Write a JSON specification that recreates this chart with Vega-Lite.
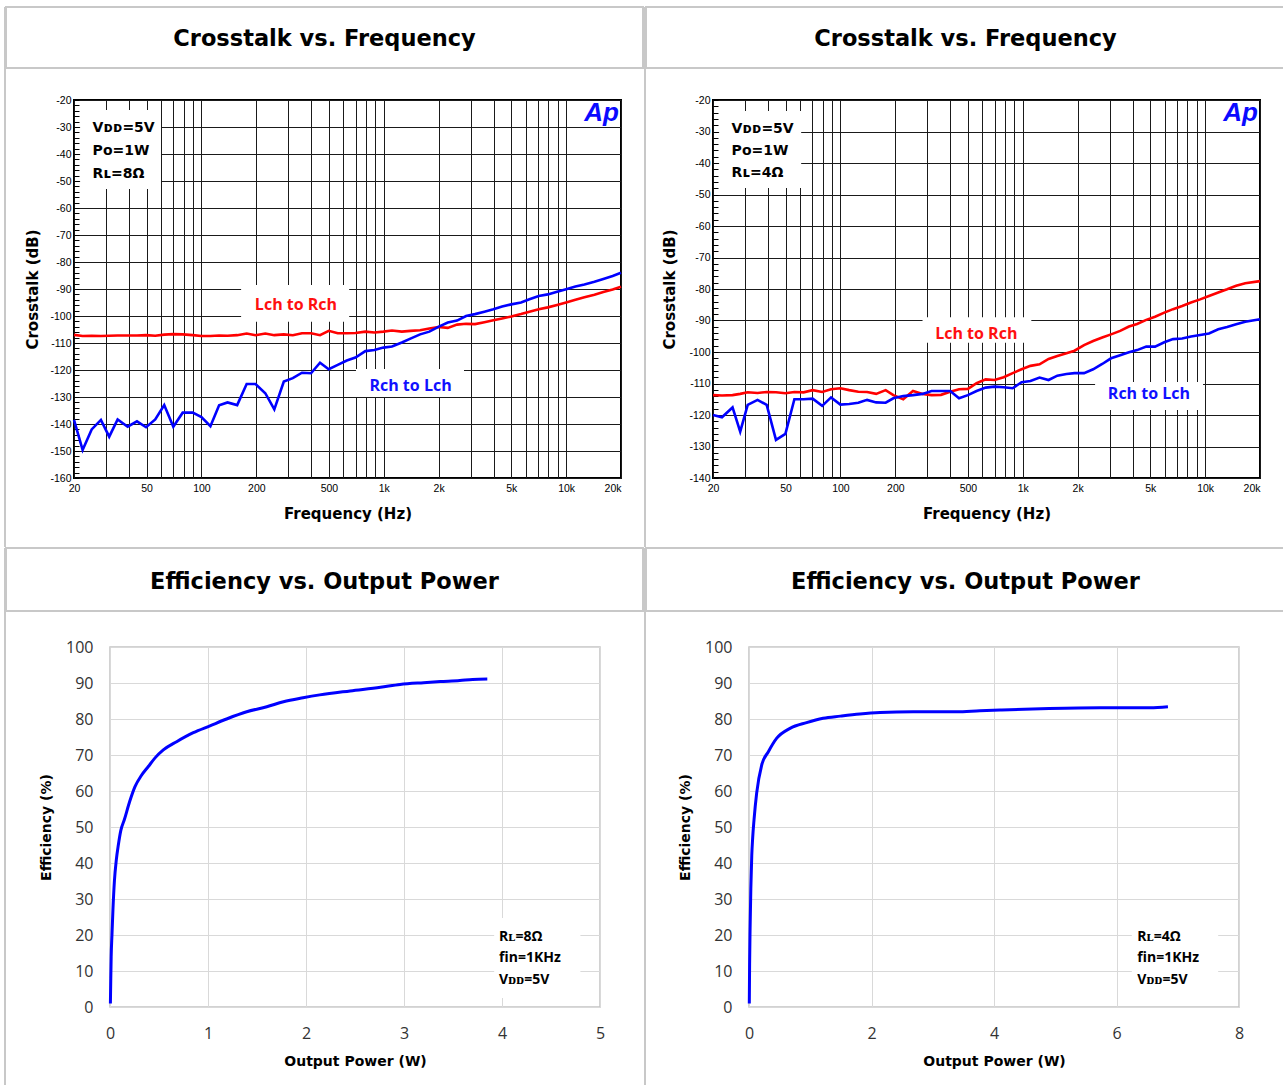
{
  "$schema": "https://vega.github.io/schema/vega-lite/v6.json",
  "background": "white",
  "padding": {"left": 4, "top": 6, "right": 0, "bottom": 0},
  "spacing": 0,
  "config": {
    "view": {"stroke": null},
    "axis": {"domain": false, "ticks": false, "labelOverlap": false, "labelFlush": false, "labelBound": false, "labelColor": "#000", "titleColor": "#000", "titleFontWeight": "bold", "titleFont": "DejaVu Sans", "tickCount": 200},
    "title": {"fontSize": 10, "color": "#fff"}
  },
  "datasets": {
    "tl": [
      {"f": 20, "L": -107.0, "R": -138.5}, {"f": 22.3, "L": -107.4, "R": -149.6}, {"f": 25, "L": -107.3, "R": -142}, {"f": 28.1, "L": -107.4, "R": -138.5},
      {"f": 31.2, "L": -107.3, "R": -144.7}, {"f": 34.7, "L": -107.2, "R": -138.3}, {"f": 39.4, "L": -107.2, "R": -141}, {"f": 44.3, "L": -107.2, "R": -139},
      {"f": 49.7, "L": -107.1, "R": -141.2}, {"f": 55.8, "L": -107.3, "R": -138.3}, {"f": 62.5, "L": -106.9, "R": -133}, {"f": 70.1, "L": -106.7, "R": -141},
      {"f": 78.9, "L": -106.8, "R": -135.8}, {"f": 89.6, "L": -107.1, "R": -135.8}, {"f": 100, "L": -107.4, "R": -137.4}, {"f": 112, "L": -107.4, "R": -140.8},
      {"f": 125, "L": -107.2, "R": -133.1}, {"f": 139, "L": -107.3, "R": -132}, {"f": 157, "L": -107.1, "R": -133}, {"f": 177, "L": -106.5, "R": -125.2},
      {"f": 198, "L": -107.1, "R": -125.2}, {"f": 224, "L": -106.5, "R": -128.6}, {"f": 251, "L": -107.1, "R": -134.6}, {"f": 283, "L": -106.8, "R": -124.3},
      {"f": 317, "L": -107.1, "R": -123}, {"f": 356, "L": -106.4, "R": -121}, {"f": 399, "L": -106.4, "R": -121.2}, {"f": 447, "L": -107.1, "R": -117.3},
      {"f": 499, "L": -105.5, "R": -119.7}, {"f": 559, "L": -106.4, "R": -118.1}, {"f": 627, "L": -106.4, "R": -116.5}, {"f": 699, "L": -106.3, "R": -115.4},
      {"f": 793, "L": -105.8, "R": -113}, {"f": 888, "L": -106.1, "R": -112.6}, {"f": 995, "L": -105.8, "R": -111.7}, {"f": 1109, "L": -105.4, "R": -111.3},
      {"f": 1256, "L": -105.8, "R": -109.8}, {"f": 1400, "L": -105.5, "R": -108.4}, {"f": 1582, "L": -105.3, "R": -106.8}, {"f": 1778, "L": -104.6, "R": -105.8},
      {"f": 1992, "L": -104.1, "R": -104}, {"f": 2244, "L": -104.4, "R": -102.4}, {"f": 2523, "L": -103.2, "R": -101.7}, {"f": 2826, "L": -102.9, "R": -100},
      {"f": 3164, "L": -103.0, "R": -99.3}, {"f": 3562, "L": -102.3, "R": -98.4}, {"f": 3991, "L": -101.6, "R": -97.5}, {"f": 4456, "L": -100.9, "R": -96.5},
      {"f": 5000, "L": -100.2, "R": -95.7}, {"f": 5660, "L": -99.3, "R": -95}, {"f": 6293, "L": -98.4, "R": -93.8}, {"f": 7080, "L": -97.5, "R": -92.6},
      {"f": 7937, "L": -96.8, "R": -92}, {"f": 8925, "L": -95.9, "R": -91}, {"f": 10000, "L": -95.0, "R": -90.1}, {"f": 11250, "L": -94.0, "R": -89.1},
      {"f": 12600, "L": -93.1, "R": -88.3}, {"f": 14300, "L": -92.1, "R": -87.3}, {"f": 16000, "L": -91.1, "R": -86.3}, {"f": 18000, "L": -90.2, "R": -85.2},
      {"f": 20000, "L": -89.2, "R": -84}
    ],
    "tr": [
      {"f": 20, "L": -113.7, "R": -120}, {"f": 22.4, "L": -113.8, "R": -120.7}, {"f": 25.6, "L": -113.7, "R": -117.6}, {"f": 28.2, "L": -113.3, "R": -125.3},
      {"f": 31, "L": -112.8, "R": -116.8}, {"f": 35.1, "L": -113, "R": -115.2}, {"f": 39.4, "L": -112.7, "R": -116.8}, {"f": 44.3, "L": -112.8, "R": -127.9},
      {"f": 49.9, "L": -113.1, "R": -126}, {"f": 55.9, "L": -112.7, "R": -115}, {"f": 62.8, "L": -112.8, "R": -115}, {"f": 70.4, "L": -112.1, "R": -114.8},
      {"f": 79.4, "L": -112.7, "R": -117.1}, {"f": 88.8, "L": -111.8, "R": -114.4}, {"f": 99.9, "L": -111.5, "R": -116.7}, {"f": 111.7, "L": -112.1, "R": -116.5},
      {"f": 125.3, "L": -112.6, "R": -116.1}, {"f": 140, "L": -112.7, "R": -115.2}, {"f": 157, "L": -113.3, "R": -116}, {"f": 177, "L": -112.1, "R": -116.1},
      {"f": 195, "L": -113.7, "R": -114.7}, {"f": 221, "L": -115, "R": -114}, {"f": 250, "L": -112.4, "R": -113.7}, {"f": 282, "L": -113.3, "R": -113.3},
      {"f": 316, "L": -113.7, "R": -112.4}, {"f": 356, "L": -113.6, "R": -112.4}, {"f": 400, "L": -112.6, "R": -112.4}, {"f": 447, "L": -111.8, "R": -114.7},
      {"f": 500, "L": -111.7, "R": -113.7}, {"f": 558, "L": -109.9, "R": -112.4}, {"f": 626, "L": -108.7, "R": -111.3}, {"f": 700, "L": -108.9, "R": -111},
      {"f": 786, "L": -108, "R": -111.2}, {"f": 880, "L": -106.7, "R": -111.5}, {"f": 985, "L": -105.5, "R": -109.6}, {"f": 1102, "L": -104.4, "R": -109.2},
      {"f": 1236, "L": -103.9, "R": -108.1}, {"f": 1385, "L": -102.2, "R": -108.9}, {"f": 1547, "L": -101.3, "R": -107.5}, {"f": 1736, "L": -100.4, "R": -107},
      {"f": 1922, "L": -99.6, "R": -106.7}, {"f": 2168, "L": -97.8, "R": -106.7}, {"f": 2432, "L": -96.5, "R": -105.5}, {"f": 2727, "L": -95.4, "R": -103.8},
      {"f": 3049, "L": -94.4, "R": -102}, {"f": 3420, "L": -93.3, "R": -101}, {"f": 3822, "L": -91.9, "R": -100.1}, {"f": 4236, "L": -91.1, "R": -99.4},
      {"f": 4756, "L": -89.8, "R": -98.3}, {"f": 5315, "L": -88.8, "R": -98.3}, {"f": 5970, "L": -87.5, "R": -96.9}, {"f": 6671, "L": -86.4, "R": -95.9},
      {"f": 7484, "L": -85.4, "R": -95.7}, {"f": 8370, "L": -84.3, "R": -95.1}, {"f": 9394, "L": -83.3, "R": -94.6}, {"f": 10500, "L": -82.2, "R": -94.1},
      {"f": 11800, "L": -81.1, "R": -92.8}, {"f": 13200, "L": -80.1, "R": -92.1}, {"f": 14800, "L": -79, "R": -91.2}, {"f": 16600, "L": -78.2, "R": -90.4},
      {"f": 20000, "L": -77.5, "R": -89.6}
    ],
    "el": [
      {"p": 0.004, "e": 1}, {"p": 0.008, "e": 8}, {"p": 0.012, "e": 14}, {"p": 0.02, "e": 20}, {"p": 0.03, "e": 27}, {"p": 0.045, "e": 35},
      {"p": 0.065, "e": 41}, {"p": 0.085, "e": 45}, {"p": 0.11, "e": 49}, {"p": 0.146, "e": 52}, {"p": 0.2, "e": 57}, {"p": 0.255, "e": 61.2},
      {"p": 0.32, "e": 64.3}, {"p": 0.391, "e": 66.8}, {"p": 0.46, "e": 69.2}, {"p": 0.544, "e": 71.4}, {"p": 0.68, "e": 73.7}, {"p": 0.85, "e": 76.2},
      {"p": 1.02, "e": 78.1}, {"p": 1.19, "e": 80}, {"p": 1.395, "e": 82}, {"p": 1.6, "e": 83.4}, {"p": 1.77, "e": 84.8}, {"p": 1.97, "e": 85.9},
      {"p": 2.14, "e": 86.7}, {"p": 2.45, "e": 87.8}, {"p": 2.76, "e": 88.8}, {"p": 2.96, "e": 89.6}, {"p": 3.2, "e": 90.1}, {"p": 3.37, "e": 90.4},
      {"p": 3.57, "e": 90.7}, {"p": 3.7, "e": 91}, {"p": 3.85, "e": 91.1}
    ],
    "er": [
      {"p": 0.005, "e": 1}, {"p": 0.01, "e": 12}, {"p": 0.018, "e": 22}, {"p": 0.03, "e": 33}, {"p": 0.045, "e": 42}, {"p": 0.06, "e": 47},
      {"p": 0.082, "e": 52}, {"p": 0.125, "e": 59.4}, {"p": 0.207, "e": 67.2}, {"p": 0.316, "e": 70.9}, {"p": 0.45, "e": 74.6}, {"p": 0.67, "e": 77.4},
      {"p": 0.94, "e": 79}, {"p": 1.21, "e": 80.2}, {"p": 1.49, "e": 80.8}, {"p": 1.81, "e": 81.4}, {"p": 2.14, "e": 81.8}, {"p": 2.68, "e": 82},
      {"p": 3.39, "e": 82}, {"p": 3.77, "e": 82.3}, {"p": 4.1, "e": 82.5}, {"p": 4.9, "e": 82.9}, {"p": 5.73, "e": 83.1}, {"p": 6.55, "e": 83.1},
      {"p": 6.84, "e": 83.4}
    ]
  },
  "vconcat": [
    {
      "spacing": -2,
      "hconcat": [
        {"width": 2, "height": 540, "view": {"fill": "#c8c8c8", "stroke": null}, "data": {"values": [{}]}, "mark": "text", "encoding": {"text": {"value": ""}}},
        {
          "spacing": 0,
          "vconcat": [
            {"width": 637, "height": 61, "view": {"stroke": "#c8c8c8", "strokeWidth": 2}, "data": {"values": [{"t": "Crosstalk vs. Frequency"}]},
             "mark": {"type": "text", "font": "DejaVu Sans", "fontSize": 22.5, "fontWeight": "bold", "color": "#000", "dy": 1}, "encoding": {"text": {"field": "t"}}},
            {
              "spacing": 0,
              "hconcat": [
                {"width": 18, "height": 1, "data": {"values": [{}]}, "mark": "text", "encoding": {"text": {"value": ""}}},
                {
                  "width": 547, "height": 378,
                  "title": {"text": "\u00a0", "fontSize": 10, "offset": 15},
                  "view": {"stroke": "#000", "strokeWidth": 2},
                  "layer": [
                    {
                      "data": {"name": "tl"},
                      "transform": [{"fold": ["L", "R"], "as": ["s", "dB"]}],
                      "mark": {"type": "line", "strokeWidth": 2.6},
                      "encoding": {
                        "x": {"field": "f", "type": "quantitative", "scale": {"type": "log", "domain": [20, 20000], "nice": false},
                          "axis": {"values": [20,30,40,50,60,70,80,90,100,200,300,400,500,600,700,800,900,1000,2000,3000,4000,5000,6000,7000,8000,9000,10000,20000],
                            "tickCount": 200,
                            "labelExpr": "indexof([20,50,100,200,500,1000,2000,5000,10000,20000], datum.value) >= 0 ? (datum.value >= 1000 ? (datum.value/1000) + 'k' : '' + datum.value) : ''",
                            "labelAlign": {"condition": {"test": "datum.value >= 20000", "value": "right"}, "value": "center"},
                            "grid": true, "gridColor": "#1a1a1a", "gridWidth": 1,
                            "labelFont": "Liberation Sans", "labelFontSize": 10.5, "labelPadding": 5,
                            "title": "Frequency (Hz)", "titleFontSize": 15, "titlePadding": 13}},
                        "y": {"field": "dB", "type": "quantitative", "scale": {"domain": [-160, -20], "nice": false, "zero": false},
                          "axis": {"values": [-160,-158,-156,-154,-152,-150,-148,-146,-144,-142,-140,-138,-136,-134,-132,-130,-128,-126,-124,-122,-120,-118,-116,-114,-112,-110,-108,-106,-104,-102,-100,-98,-96,-94,-92,-90,-88,-86,-84,-82,-80,-78,-76,-74,-72,-70,-68,-66,-64,-62,-60,-58,-56,-54,-52,-50,-48,-46,-44,-42,-40,-38,-36,-34,-32,-30,-28,-26,-24,-22,-20],
                            "tickCount": 200,
                            "labelExpr": "datum.value % 10 == 0 ? '' + datum.value : ''",
                            "grid": true, "gridColor": "#1a1a1a", "gridWidth": 1,
                            "gridOpacity": {"condition": {"test": "datum.value % 10 == 0", "value": 1}, "value": 0},
                            "ticks": true, "tickSize": -5, "tickColor": "#000", "tickWidth": 1,
                            "labelFont": "Liberation Sans", "labelFontSize": 10.5, "labelPadding": 8,
                            "minExtent": 24, "maxExtent": 24,
                            "title": "Crosstalk (dB)", "titleFontSize": 15, "titlePadding": 10}},
                        "color": {"field": "s", "type": "nominal", "scale": {"domain": ["L", "R"], "range": ["#ff0000", "#0000ff"]}, "legend": null},
                        "order": {"field": "f", "type": "quantitative"}
                      }
                    },
                    {"data": {"values": [{}]}, "mark": {"type": "rect", "fill": "#fff"},
                     "encoding": {"x": {"datum": 21.6}, "x2": {"datum": 60}, "y": {"datum": -23.7}, "y2": {"datum": -53}}},
                    {"data": {"values": [{}]}, "mark": {"type": "rect", "fill": "#fff"},
                     "encoding": {"x": {"datum": 165}, "x2": {"datum": 646}, "y": {"datum": -88.5}, "y2": {"datum": -102.1}}},
                    {"data": {"values": [{}]}, "mark": {"type": "rect", "fill": "#fff"},
                     "encoding": {"x": {"datum": 704}, "x2": {"datum": 2754}, "y": {"datum": -119.6}, "y2": {"datum": -130}}},
                    {"data": {"values": [{}]}, "mark": {"type": "text", "align": "left", "baseline": "middle", "font": "DejaVu Sans", "fontSize": 14, "fontWeight": "bold", "lineHeight": 23, "color": "#000"},
                     "encoding": {"x": {"datum": 25.3}, "y": {"datum": -30.5}, "text": {"value": ["V\u1d05\u1d05=5V", "Po=1W", "R\u029f=8\u03a9"]}}},
                    {"data": {"values": [{}]}, "mark": {"type": "text", "font": "Open Sans", "fontSize": 16, "fontWeight": "bold", "color": "#ff1010"},
                     "encoding": {"x": {"datum": 330}, "y": {"datum": -95.9}, "text": {"value": "Lch to Rch"}}},
                    {"data": {"values": [{}]}, "mark": {"type": "text", "font": "Open Sans", "fontSize": 16, "fontWeight": "bold", "color": "#1010ff"},
                     "encoding": {"x": {"datum": 1402}, "y": {"datum": -125.9}, "text": {"value": "Rch to Lch"}}},
                    {"data": {"values": [{}]}, "mark": {"type": "text", "align": "right", "baseline": "top", "font": "Liberation Sans", "fontSize": 26, "fontWeight": "bold", "fontStyle": "italic", "color": "#0a0aff"},
                     "encoding": {"x": {"datum": 19500}, "y": {"datum": -20}, "text": {"value": "Ap"}}}
                  ]
                }
              ]
            }
          ]
        },
        {"width": 2, "height": 540, "view": {"fill": "#c8c8c8", "stroke": null}, "data": {"values": [{}]}, "mark": "text", "encoding": {"text": {"value": ""}}},
        {
          "spacing": 0,
          "vconcat": [
            {"width": 639, "height": 61, "view": {"stroke": "#c8c8c8", "strokeWidth": 2}, "data": {"values": [{"t": "Crosstalk vs. Frequency"}]},
             "mark": {"type": "text", "font": "DejaVu Sans", "fontSize": 22.5, "fontWeight": "bold", "color": "#000", "dy": 1}, "encoding": {"text": {"field": "t"}}},
            {
              "spacing": 0,
              "hconcat": [
                {"width": 15, "height": 1, "data": {"values": [{}]}, "mark": "text", "encoding": {"text": {"value": ""}}},
                {
                  "width": 547, "height": 378,
                  "title": {"text": "\u00a0", "fontSize": 10, "offset": 15},
                  "view": {"stroke": "#000", "strokeWidth": 2},
                  "layer": [
                    {
                      "data": {"name": "tr"},
                      "transform": [{"fold": ["L", "R"], "as": ["s", "dB"]}],
                      "mark": {"type": "line", "strokeWidth": 2.6},
                      "encoding": {
                        "x": {"field": "f", "type": "quantitative", "scale": {"type": "log", "domain": [20, 20000], "nice": false},
                          "axis": {"values": [20,30,40,50,60,70,80,90,100,200,300,400,500,600,700,800,900,1000,2000,3000,4000,5000,6000,7000,8000,9000,10000,20000],
                            "tickCount": 200,
                            "labelExpr": "indexof([20,50,100,200,500,1000,2000,5000,10000,20000], datum.value) >= 0 ? (datum.value >= 1000 ? (datum.value/1000) + 'k' : '' + datum.value) : ''",
                            "labelAlign": {"condition": {"test": "datum.value >= 20000", "value": "right"}, "value": "center"},
                            "grid": true, "gridColor": "#1a1a1a", "gridWidth": 1,
                            "labelFont": "Liberation Sans", "labelFontSize": 10.5, "labelPadding": 5,
                            "title": "Frequency (Hz)", "titleFontSize": 15, "titlePadding": 13}},
                        "y": {"field": "dB", "type": "quantitative", "scale": {"domain": [-140, -20], "nice": false, "zero": false},
                          "axis": {"values": [-140,-138,-136,-134,-132,-130,-128,-126,-124,-122,-120,-118,-116,-114,-112,-110,-108,-106,-104,-102,-100,-98,-96,-94,-92,-90,-88,-86,-84,-82,-80,-78,-76,-74,-72,-70,-68,-66,-64,-62,-60,-58,-56,-54,-52,-50,-48,-46,-44,-42,-40,-38,-36,-34,-32,-30,-28,-26,-24,-22,-20],
                            "tickCount": 200,
                            "labelExpr": "datum.value % 10 == 0 ? '' + datum.value : ''",
                            "grid": true, "gridColor": "#1a1a1a", "gridWidth": 1,
                            "gridOpacity": {"condition": {"test": "datum.value % 10 == 0", "value": 1}, "value": 0},
                            "ticks": true, "tickSize": -5, "tickColor": "#000", "tickWidth": 1,
                            "labelFont": "Liberation Sans", "labelFontSize": 10.5, "labelPadding": 8,
                            "minExtent": 24, "maxExtent": 24,
                            "title": "Crosstalk (dB)", "titleFontSize": 15, "titlePadding": 12}},
                        "color": {"field": "s", "type": "nominal", "scale": {"domain": ["L", "R"], "range": ["#ff0000", "#0000ff"]}, "legend": null},
                        "order": {"field": "f", "type": "quantitative"}
                      }
                    },
                    {"data": {"values": [{}]}, "mark": {"type": "rect", "fill": "#fff"},
                     "encoding": {"x": {"datum": 21.6}, "x2": {"datum": 60.9}, "y": {"datum": -23.5}, "y2": {"datum": -47.9}}},
                    {"data": {"values": [{}]}, "mark": {"type": "rect", "fill": "#fff"},
                     "encoding": {"x": {"datum": 282}, "x2": {"datum": 1114}, "y": {"datum": -89}, "y2": {"datum": -97.1}}},
                    {"data": {"values": [{}]}, "mark": {"type": "rect", "fill": "#fff"},
                     "encoding": {"x": {"datum": 2492}, "x2": {"datum": 9740}, "y": {"datum": -109.5}, "y2": {"datum": -118.4}}},
                    {"data": {"values": [{}]}, "mark": {"type": "text", "align": "left", "baseline": "middle", "font": "DejaVu Sans", "fontSize": 14, "fontWeight": "bold", "lineHeight": 22, "color": "#000"},
                     "encoding": {"x": {"datum": 25.3}, "y": {"datum": -29.3}, "text": {"value": ["V\u1d05\u1d05=5V", "Po=1W", "R\u029f=4\u03a9"]}}},
                    {"data": {"values": [{}]}, "mark": {"type": "text", "font": "Open Sans", "fontSize": 16, "fontWeight": "bold", "color": "#ff1010"},
                     "encoding": {"x": {"datum": 556}, "y": {"datum": -94.3}, "text": {"value": "Lch to Rch"}}},
                    {"data": {"values": [{}]}, "mark": {"type": "text", "font": "Open Sans", "fontSize": 16, "fontWeight": "bold", "color": "#1010ff"},
                     "encoding": {"x": {"datum": 4920}, "y": {"datum": -113.4}, "text": {"value": "Rch to Lch"}}},
                    {"data": {"values": [{}]}, "mark": {"type": "text", "align": "right", "baseline": "top", "font": "Liberation Sans", "fontSize": 26, "fontWeight": "bold", "fontStyle": "italic", "color": "#0a0aff"},
                     "encoding": {"x": {"datum": 19500}, "y": {"datum": -20}, "text": {"value": "Ap"}}}
                  ]
                }
              ]
            }
          ]
        },
        {"width": 2, "height": 540, "view": {"fill": "#c8c8c8", "stroke": null}, "data": {"values": [{}]}, "mark": "text", "encoding": {"text": {"value": ""}}}
      ]
    },
    {
      "spacing": -2,
      "hconcat": [
        {"width": 2, "height": 538, "view": {"fill": "#c8c8c8", "stroke": null}, "data": {"values": [{}]}, "mark": "text", "encoding": {"text": {"value": ""}}},
        {
          "spacing": 0,
          "vconcat": [
            {"width": 637, "height": 63, "view": {"stroke": "#c8c8c8", "strokeWidth": 2}, "data": {"values": [{"t": "Efficiency vs. Output Power"}]},
             "mark": {"type": "text", "font": "DejaVu Sans", "fontSize": 22.5, "fontWeight": "bold", "color": "#000", "dy": 2}, "encoding": {"text": {"field": "t"}}},
            {
              "spacing": 0,
              "hconcat": [
                {"width": 32, "height": 1, "data": {"values": [{}]}, "mark": "text", "encoding": {"text": {"value": ""}}},
                {
                  "width": 490, "height": 360,
                  "title": {"text": "\u00a0", "fontSize": 10, "offset": 16},
                  "view": {"stroke": "#c4c4c4", "strokeWidth": 1.5},
                  "layer": [
                    {
                      "data": {"name": "el"},
                      "mark": {"type": "line", "color": "#0000ff", "strokeWidth": 3, "interpolate": "monotone"},
                      "encoding": {
                        "x": {"field": "p", "type": "quantitative", "scale": {"domain": [0, 5], "nice": false},
                          "axis": {"values": [0,1,2,3,4,5], "tickCount": 200, "format": "d", "grid": true, "gridColor": "#d9d9d9", "labelFont": "Open Sans", "labelFontSize": 16, "labelColor": "#333", "labelPadding": 18,
                            "title": "Output Power (W)", "titleFontSize": 14, "titlePadding": 13}},
                        "y": {"field": "e", "type": "quantitative", "scale": {"domain": [0, 100], "nice": false},
                          "axis": {"values": [0,10,20,30,40,50,60,70,80,90,100], "tickCount": 200, "format": "d", "grid": true, "gridColor": "#d9d9d9", "labelFont": "Open Sans", "labelFontSize": 16, "labelColor": "#333", "labelPadding": 17,
                            "minExtent": 45, "maxExtent": 45, "title": "Efficiency (%)", "titleFontSize": 14, "titlePadding": 12}}
                      }
                    },
                    {"data": {"values": [{}]}, "mark": {"type": "rect", "fill": "#fff"},
                     "encoding": {"x": {"datum": 3.92}, "x2": {"datum": 4.8}, "y": {"datum": 24.7}, "y2": {"datum": 2.5}}},
                    {"data": {"values": [{}]}, "mark": {"type": "text", "align": "left", "baseline": "middle", "font": "Open Sans", "fontSize": 14, "fontWeight": "bold", "lineHeight": 21.5, "color": "#000"},
                     "encoding": {"x": {"datum": 3.97}, "y": {"datum": 19.5}, "text": {"value": ["R\u029f=8\u03a9", "fin=1KHz", "V\u1d05\u1d05=5V"]}}}
                  ]
                }
              ]
            }
          ]
        },
        {"width": 2, "height": 538, "view": {"fill": "#c8c8c8", "stroke": null}, "data": {"values": [{}]}, "mark": "text", "encoding": {"text": {"value": ""}}},
        {
          "spacing": 0,
          "vconcat": [
            {"width": 639, "height": 63, "view": {"stroke": "#c8c8c8", "strokeWidth": 2}, "data": {"values": [{"t": "Efficiency vs. Output Power"}]},
             "mark": {"type": "text", "font": "DejaVu Sans", "fontSize": 22.5, "fontWeight": "bold", "color": "#000", "dy": 2}, "encoding": {"text": {"field": "t"}}},
            {
              "spacing": 0,
              "hconcat": [
                {"width": 31, "height": 1, "data": {"values": [{}]}, "mark": "text", "encoding": {"text": {"value": ""}}},
                {
                  "width": 490, "height": 360,
                  "title": {"text": "\u00a0", "fontSize": 10, "offset": 16},
                  "view": {"stroke": "#c4c4c4", "strokeWidth": 1.5},
                  "layer": [
                    {
                      "data": {"name": "er"},
                      "mark": {"type": "line", "color": "#0000ff", "strokeWidth": 3, "interpolate": "monotone"},
                      "encoding": {
                        "x": {"field": "p", "type": "quantitative", "scale": {"domain": [0, 8], "nice": false},
                          "axis": {"values": [0,2,4,6,8], "tickCount": 200, "format": "d", "grid": true, "gridColor": "#d9d9d9", "labelFont": "Open Sans", "labelFontSize": 16, "labelColor": "#333", "labelPadding": 18,
                            "title": "Output Power (W)", "titleFontSize": 14, "titlePadding": 13}},
                        "y": {"field": "e", "type": "quantitative", "scale": {"domain": [0, 100], "nice": false},
                          "axis": {"values": [0,10,20,30,40,50,60,70,80,90,100], "tickCount": 200, "format": "d", "grid": true, "gridColor": "#d9d9d9", "labelFont": "Open Sans", "labelFontSize": 16, "labelColor": "#333", "labelPadding": 17,
                            "minExtent": 45, "maxExtent": 45, "title": "Efficiency (%)", "titleFontSize": 14, "titlePadding": 12}}
                      }
                    },
                    {"data": {"values": [{}]}, "mark": {"type": "rect", "fill": "#fff"},
                     "encoding": {"x": {"datum": 6.25}, "x2": {"datum": 7.66}, "y": {"datum": 24.7}, "y2": {"datum": 2.5}}},
                    {"data": {"values": [{}]}, "mark": {"type": "text", "align": "left", "baseline": "middle", "font": "Open Sans", "fontSize": 14, "fontWeight": "bold", "lineHeight": 21.5, "color": "#000"},
                     "encoding": {"x": {"datum": 6.34}, "y": {"datum": 19.5}, "text": {"value": ["R\u029f=4\u03a9", "fin=1KHz", "V\u1d05\u1d05=5V"]}}}
                  ]
                }
              ]
            }
          ]
        },
        {"width": 2, "height": 538, "view": {"fill": "#c8c8c8", "stroke": null}, "data": {"values": [{}]}, "mark": "text", "encoding": {"text": {"value": ""}}}
      ]
    }
  ]
}
